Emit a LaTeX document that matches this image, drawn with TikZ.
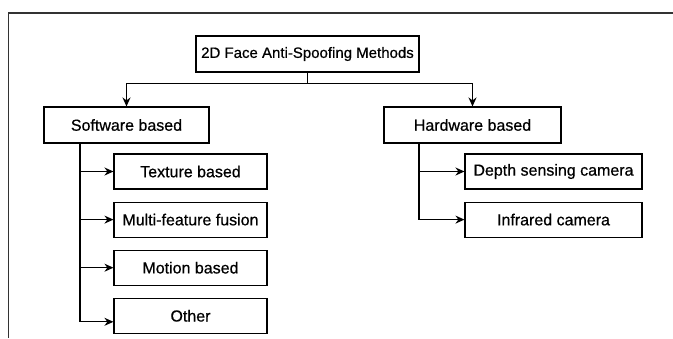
\documentclass[tikz,border=0pt]{standalone}
\usepackage{fontspec}
\setmainfont{Liberation Sans}
\newfontfamily\boxfont{Liberation Sans}[FakeBold=0.6]
\usetikzlibrary{positioning}
\usetikzlibrary{arrows.meta}
\tikzset{node distance=12pt,
    box/.style={
        draw,
        line width=1.1pt,
        minimum height=36pt,
        inner sep=0pt,
        font=\boxfont\fontsize{16}{19}\selectfont},
    subbox/.style={
        box,
        minimum height=35pt,
        minimum width=153pt},
    hwbox/.style={
        subbox,
        minimum width=177pt},
    arr/.style={
        draw,
        line width=1.1pt,
        -{Stealth[length=9pt,width=8pt]}}}

\begin{document}
\begin{tikzpicture}[x=1pt,y=-1pt]
        \useasboundingbox (0,0) rectangle (673,338);
        \draw[line width=1.4pt,black!80] (8.6,338) -- (8.6,13) -- (673,13);
        \node[box,minimum width=223pt,font=\boxfont\fontsize{15}{18}\selectfont] (root) at (307.5,54) {2D Face Anti-Spoofing Methods};
        \node[box,minimum width=165pt] (sw) at (126.5,125) {Software based};
        \node[box,minimum width=177pt] (hw) at (472.5,125) {Hardware based};
        \node[subbox] (tex) at (190.5,171.5) {Texture based};
        \node[subbox,below=of tex] (mff) {Multi-feature fusion};
        \node[subbox,below=of mff] (mot) {Motion based};
        \node[subbox,below=of mot] (oth) {Other};
        \node[hwbox] (dep) at (553.5,171.5) {Depth sensing camera};
        \node[hwbox,below=of dep] (ir) {Infrared camera};
        \coordinate (swbus) at (80,143);
        \coordinate (hwbus) at (419,143);
        \draw[arr] (root.south) -- ++(0,11) -| (sw);
        \draw[arr] (root.south) -- ++(0,11) -| (hw);
        \draw[arr] (swbus) |- (tex);
        \draw[arr] (swbus) |- (mff);
        \draw[arr] (swbus) |- (mot);
        \draw[arr] (swbus) |- ([yshift=-6pt]oth.west);
        \draw[arr] (hwbus) |- (dep);
        \draw[arr] (hwbus) |- (ir);
    \end{tikzpicture}
\end{document}
